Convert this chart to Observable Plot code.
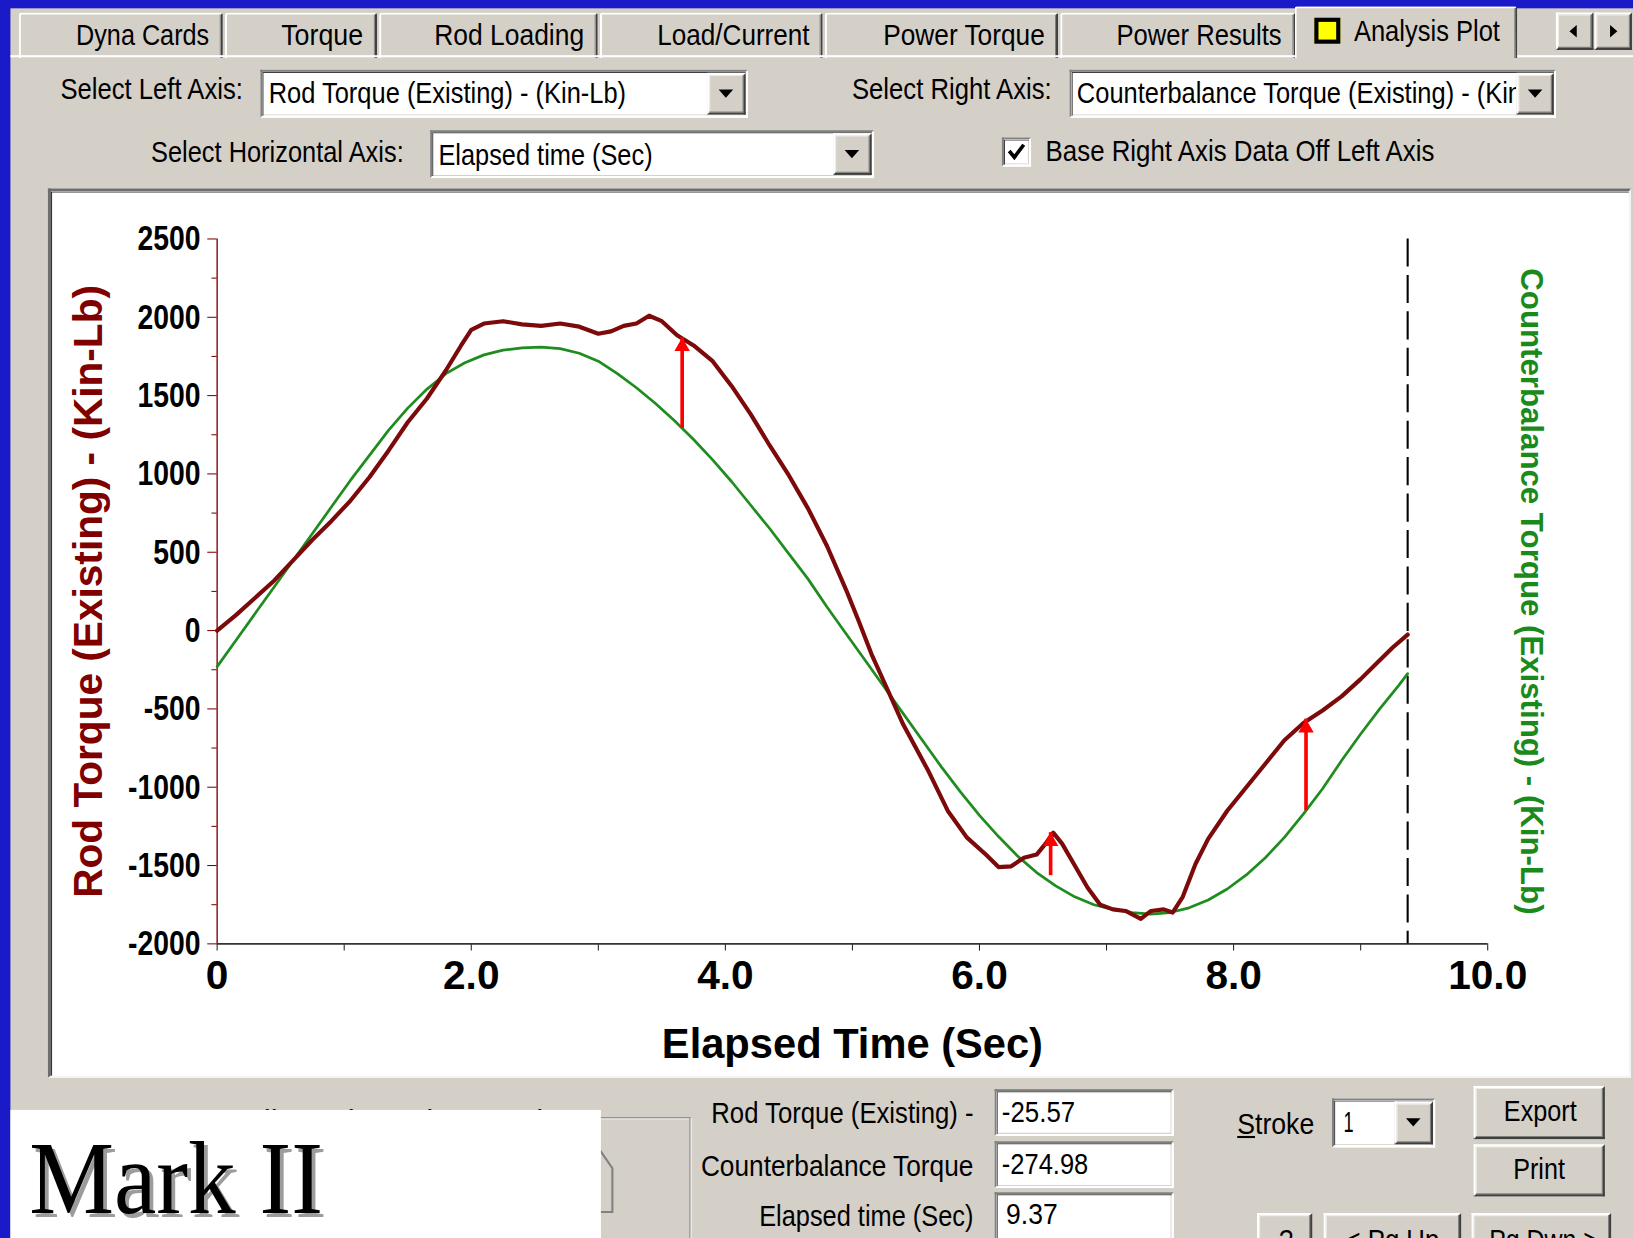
<!DOCTYPE html>
<html><head><meta charset="utf-8">
<script src="https://cdn.jsdelivr.net/npm/d3@7"></script>
<script src="https://cdn.jsdelivr.net/npm/@observablehq/plot@0.6"></script>
<style>
html,body{margin:0;padding:0;width:1633px;height:1238px;overflow:hidden;background:#1a1ac8;}
#root{position:absolute;left:0;top:0;width:1568px;height:1189px;transform:scale(1.04145,1.04121);transform-origin:0 0;background:#1a1ac8;overflow:hidden;}
.abs{position:absolute;box-sizing:border-box;}
.sunken{background:#fff;border:2px solid;border-color:#808080 #fff #fff #808080;box-shadow:inset 1px 1px 0 #404040, inset -1px -1px 0 #d4d0c8;}
.raised{background:#d4d0c8;border:2px solid;border-color:#fff #404040 #404040 #fff;box-shadow:inset -1px -1px 0 #808080, inset 1px 1px 0 #ecebe6;}
.tab{background:#d4d0c8;border-top:2px solid #fff;border-left:2px solid #fff;border-right:2px solid #404040;border-radius:3px 3px 0 0;box-shadow:inset -1px 0 0 #808080;}
.tri{position:absolute;width:0;height:0;border-left:7px solid transparent;border-right:7px solid transparent;border-top:8px solid #000;}
</style></head>
<body><div id="root"></div>
<script>
// ---------------- data ----------------
const rodTime = [0,0.15,0.3,0.45,0.6,0.75,0.9,1.05,1.2,1.35,1.5,1.65,1.8,1.92,2.0,2.1,2.25,2.4,2.55,2.7,2.85,3.0,3.1,3.2,3.3,3.4,3.5,3.62,3.75,3.9,4.05,4.2,4.35,4.5,4.65,4.8,4.95,5.05,5.15,5.25,5.4,5.5,5.6,5.75,5.9,6.05,6.15,6.25,6.35,6.45,6.52,6.58,6.65,6.75,6.85,6.95,7.05,7.15,7.27,7.35,7.45,7.52,7.6,7.7,7.8,7.95,8.1,8.25,8.4,8.55,8.7,8.85,9.0,9.15,9.25,9.37];
const rodTorque = [0,100,210,320,450,580,700,830,980,1150,1330,1480,1660,1820,1920,1960,1975,1955,1945,1960,1940,1895,1910,1945,1960,2010,1975,1885,1820,1720,1560,1380,1180,990,780,540,260,60,-150,-330,-600,-750,-900,-1150,-1320,-1430,-1510,-1505,-1450,-1430,-1360,-1290,-1360,-1500,-1640,-1750,-1780,-1790,-1840,-1790,-1780,-1800,-1700,-1490,-1330,-1150,-1000,-850,-700,-590,-510,-420,-310,-190,-110,-25.57];
const cbTime = [0,0.15,0.3,0.45,0.6,0.75,0.9,1.05,1.2,1.35,1.5,1.65,1.8,1.95,2.1,2.25,2.4,2.55,2.7,2.85,3.0,3.15,3.3,3.45,3.6,3.75,3.9,4.05,4.2,4.35,4.5,4.65,4.8,4.95,5.1,5.25,5.4,5.55,5.7,5.85,6.0,6.15,6.3,6.45,6.6,6.75,6.9,7.05,7.2,7.35,7.5,7.65,7.8,7.95,8.1,8.25,8.4,8.55,8.7,8.85,9.0,9.15,9.3,9.37];
const cbTorque = [-230,-60,110,280,450,620,790,960,1120,1280,1420,1540,1640,1710,1760,1790,1805,1810,1800,1770,1720,1640,1550,1450,1340,1220,1090,950,800,650,490,330,150,-20,-190,-360,-530,-700,-870,-1030,-1180,-1315,-1440,-1545,-1630,-1700,-1750,-1780,-1800,-1810,-1800,-1770,-1720,-1650,-1560,-1450,-1320,-1170,-1010,-830,-660,-500,-350,-274.98];
const arrowTime = [3.66, 6.56, 8.57];
const arrowBase = [1290, -1565, -1150];
const arrowTip = [1870, -1290, -565];
const cursorTime = 9.37;
const xTicks = [0,1,2,3,4,5,6,7,8,9,10];
const xTickLabels = ["0","","2.0","","4.0","","6.0","","8.0","","10.0"];
const yMajorTicks = [-2000,-1500,-1000,-500,0,500,1000,1500,2000,2500];
const yMinorTicks = [-1750,-1250,-750,-250,250,750,1250,1750,2250];
const leftTitle = "Rod Torque (Existing) - (Kin-Lb)";
const rightTitle = "Counterbalance Torque (Existing) - (Kin-Lb)";
const xTitle = "Elapsed Time (Sec)";
const tabNames = ["Dyna Cards","Torque","Rod Loading","Load/Current","Power Torque","Power Results"];
const readoutLabels = ["Rod Torque (Existing) -","Counterbalance Torque","Elapsed time (Sec)"];
const readoutValues = ["-25.57","-274.98","9.37"];

const rod = rodTime.map((t,i)=>({t, v: rodTorque[i]}));
const cb = cbTime.map((t,i)=>({t, v: cbTorque[i]}));
const arrows = arrowTime.map((t,i)=>({t, base: arrowBase[i], tip: arrowTip[i]}));

// ---------------- UI chrome ----------------
const root = document.getElementById("root");
const UI = "'Liberation Sans',Arial,sans-serif";
function box(x,y,w,h,cls,extra){
  const d=document.createElement("div"); d.className="abs "+(cls||"");
  Object.assign(d.style,{left:x+"px",top:y+"px",width:w+"px",height:h+"px"},extra||{});
  root.appendChild(d); return d;
}
function label(html,x,cy,w,size,opts){
  opts=opts||{};
  const d=document.createElement("div"); d.className="abs";
  d.innerHTML=html;
  Object.assign(d.style,{left:x+"px",top:(cy-0.59*size)+"px",fontSize:size+"px",lineHeight:(1.2*size)+"px",whiteSpace:"nowrap",fontFamily:opts.font||UI,color:opts.color||"#000",transformOrigin:"0 0"},opts.style||{});
  (opts.parent||root).appendChild(d);
  let sc=opts.scale||1;
  if(w){ sc=w/d.offsetWidth; }
  d.style.transform=`scaleX(${sc})`;
  return sc;
}
function tri(cx,cy){ const t=document.createElement("div"); t.className="tri"; t.style.left=(cx-7)+"px"; t.style.top=(cy-4)+"px"; root.appendChild(t); }

box(10,8,1558,1181,"",{background:"#d4d0c8"});
// tabs
const tabX=[[18,214,128],[216,362,79],[364,574,144],[576,790,146],[792,1016,155],[1018,1244,159]];
tabX.forEach(([a,b,w],i)=>{ box(a,12,b-a,44,"tab"); label(tabNames[i], b-13-w, 34, w, 28); });
box(10,53,1558,2,"",{background:"#fff"});
box(1243,6,214,50,"tab");
box(1262,17,25,25,"",{background:"#ffff00",border:"4px solid #000"});
label("Analysis Plot",1300,30,140,28);
box(1494,12,36,36,"raised"); box(1531,12,36,36,"raised");
(function(){const a=document.createElement("div");a.className="abs";Object.assign(a.style,{left:"1507px",top:"24px",width:0,height:0,borderTop:"6px solid transparent",borderBottom:"6px solid transparent",borderRight:"7px solid #000"});root.appendChild(a);
const b=document.createElement("div");b.className="abs";Object.assign(b.style,{left:"1546px",top:"24px",width:0,height:0,borderTop:"6px solid transparent",borderBottom:"6px solid transparent",borderLeft:"7px solid #000"});root.appendChild(b);})();

// row 2
label("Select Left Axis:",58,86,175,28);
box(250,67,468,46,"sunken");
const ddScale = label("Rod Torque (Existing) - (Kin-Lb)",258,90,343,28);
box(679,70,37,40,"raised"); tri(697,90);
label("Select Right Axis:",818,86,192,28);
box(1027,67,467,46,"sunken");
const clip=box(1031,69,425,42,"",{overflow:"hidden"});
label("Counterbalance Torque (Existing) - (Kin-Lb)",3,21,null,28,{parent:clip,scale:ddScale});
box(1456,70,36,40,"raised"); tri(1474,90);
// row 3
label("Select Horizontal Axis:",145,147,243,28);
box(413,125,426,46,"sunken");
label("Elapsed time (Sec)",421,149,206,28);
box(800,128,37,40,"raised"); tri(818,148);
const cbx=box(962,132,28,28,"sunken");
cbx.innerHTML='<svg width="24" height="24" style="position:absolute;left:0;top:0"><path d="M5 11 L10 17 L19 5" fill="none" stroke="#000" stroke-width="3.5"/></svg>';
label("Base Right Axis Data Off Left Axis",1004,146,373,28);

// chart panel
box(46,181,1520,854,"",{background:"#fff",borderTop:"3px solid #6e6e6e",borderLeft:"3px solid #6e6e6e",borderRight:"2px solid #f4f4f4",borderBottom:"2px solid #f4f4f4",boxShadow:"inset 1px 1px 0 #303030"});

// bottom area
box(200,1073,463,200,"",{border:"1px solid #808080",boxShadow:"inset 1px 1px 0 #fff, 1px 1px 0 #fff"});
const pent=box(552,1098,45,75,"");
pent.innerHTML='<svg width="45" height="75"><path d="M4 8 L25 8 L36 24 L36 66 L4 66 Z" fill="none" stroke="#808080" stroke-width="2"/></svg>';
label("Indicated Load Control",218,1077,304,28);
box(10,1066,567,123,"",{background:"#fff"});
label("Mark II",28,1131,282,100,{font:"'Liberation Serif','Times New Roman',serif",style:{textShadow:"4px 4px 0 #9c9c9c"}});
const rw=[252,262,206], rcy=[1070,1120,1168];
readoutLabels.forEach((s,i)=>label(s,935-rw[i],rcy[i],rw[i],28));
box(955,1046,172,45,"sunken"); box(955,1096,172,45,"sunken"); box(955,1145,172,48,"sunken");
label(readoutValues[0],962,1069,70,28); label(readoutValues[1],962,1119,83,28); label(readoutValues[2],966,1167,50,28);
label("<u>S</u>troke",1188,1080,74,28);
box(1279,1055,99,47,"sunken"); label("1",1290,1078,10,28);
box(1339,1058,37,41,"raised"); tri(1357,1078);
box(1415,1043,126,51,"raised"); label("Export",1444,1068,70,28);
box(1415,1099,126,50,"raised"); label("Print",1453,1123,50,28);
box(1207,1165,53,40,"raised"); label("?",1228,1192,14,28);
box(1271,1165,132,40,"raised"); label("&lt; Pg Up",1292,1192,90,28);
box(1413,1165,134,40,"raised"); label("Pg Dwn &gt;",1430,1192,104,28);

// ---------------- chart ----------------
const FONT = "'Liberation Sans',Arial,sans-serif";
const chart = Plot.plot({
  width: 1512, height: 846,
  marginLeft: 157, marginRight: 135, marginTop: 43, marginBottom: 126,
  x: {domain: [0, 10]},
  y: {domain: [-2000, 2500]},
  style: {background: "transparent", fontFamily: FONT, overflow: "visible"},
  marks: [
    Plot.axisY({ticks: yMajorTicks, tickSize: 9, tickPadding: 7, stroke: "#800000", fill: "#000", fontSize: 34, fontWeight: "bold", tickFormat: d => String(d), label: null}),
    Plot.axisY({ticks: yMinorTicks, tickSize: 5, stroke: "#800000", tickFormat: () => "", label: null}),
    Plot.ruleX([0], {stroke: "#800000", strokeWidth: 1.3}),
    Plot.axisX({ticks: xTicks, tickSize: 7, tickPadding: 9, stroke: "#222", fill: "#000", fontSize: 39, fontWeight: "bold", tickFormat: d => xTickLabels[xTicks.indexOf(d)], label: null}),
    Plot.ruleY([-2000], {stroke: "#333", strokeWidth: 1.6}),
    Plot.ruleX([cursorTime], {stroke: "#000", strokeWidth: 2, strokeDasharray: "27,8"}),
    Plot.line(cb, {x: "t", y: "v", stroke: "#1e8c1e", strokeWidth: 2.6}),
    Plot.line(rod, {x: "t", y: "v", stroke: "#7c0a0a", strokeWidth: 4, strokeLinejoin: "round"}),
    Plot.ruleX(arrows, {x: "t", y1: "base", y2: "tip", stroke: "#ff0000", strokeWidth: 3.5}),
    Plot.dot(arrows, {x: "t", y: "tip", symbol: "triangle", r: 5.5, fill: "#ff0000", stroke: "none", dy: 8.5}),
    Plot.text([leftTitle], {frameAnchor: "left", textAnchor: "middle", rotate: -90, dx: -123, fill: "#800000", fontSize: 39, fontWeight: "bold", fontFamily: FONT}),
    Plot.text([rightTitle], {frameAnchor: "right", textAnchor: "middle", rotate: 90, dx: 42, fill: "#1a8a1a", fontSize: 30, fontWeight: "bold", fontFamily: FONT}),
    Plot.text([xTitle], {frameAnchor: "bottom", dy: 110, fill: "#000", fontSize: 40, fontWeight: "bold", fontFamily: FONT})
  ]
});
// condense the y tick labels horizontally (narrow bold digits as in the original)
const yLabelSet = new Set(yMajorTicks.map(String));
chart.querySelectorAll("text").forEach(t => {
  if (!yLabelSet.has(t.textContent)) return;
  let anchor = t.getAttribute("text-anchor");
  let p = t.parentNode;
  while (!anchor && p && p.getAttribute) { anchor = p.getAttribute("text-anchor"); p = p.parentNode; }
  if (anchor !== "end") return;
  const tr = t.getAttribute("transform");
  if (tr) {
    t.setAttribute("transform", tr + " scale(0.8,1)");
  } else {
    const xs = t.getAttribute("x");
    const x = xs != null && isFinite(+xs) ? +xs : 0;
    if (xs != null && isFinite(+xs)) t.removeAttribute("x");
    t.setAttribute("transform", `translate(${x},0) scale(0.8,1)`);
  }
});
const holder = box(51,186,1512,846,"");
holder.appendChild(chart);
</script>
</body></html>
